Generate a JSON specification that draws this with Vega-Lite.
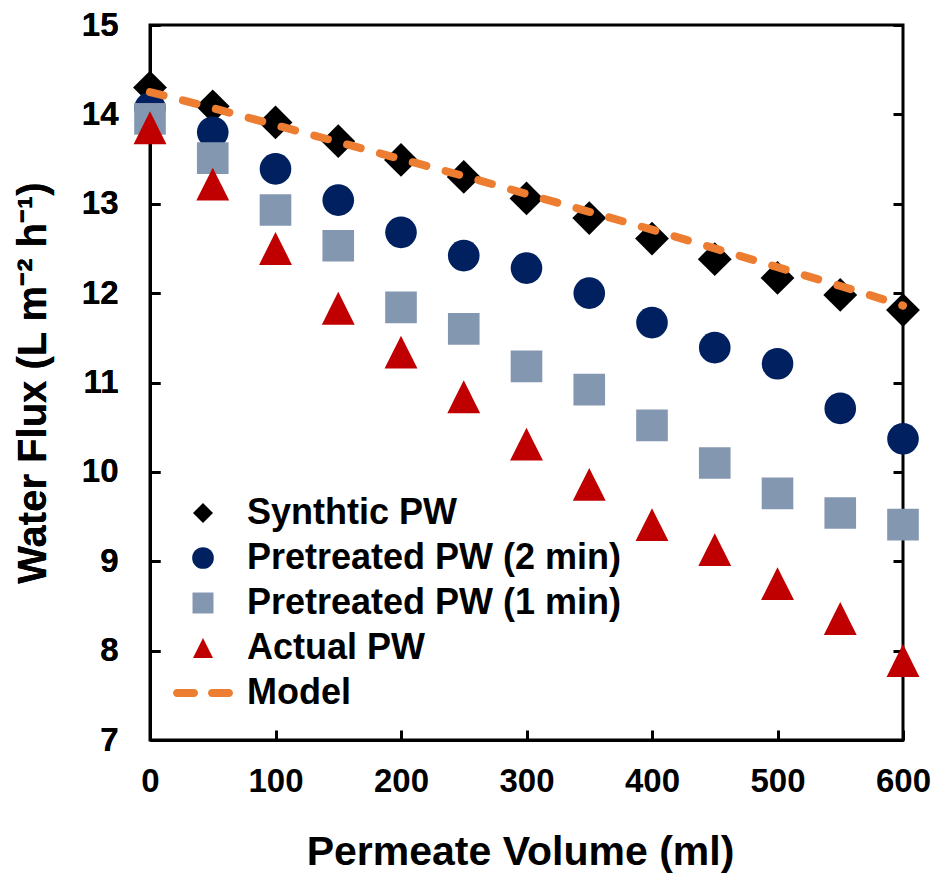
{
  "$schema": "https://vega.github.io/schema/vega-lite/v6.json",
  "width": 753,
  "height": 715,
  "autosize": {"type": "none"},
  "padding": {"left": 150, "top": 25, "right": 32, "bottom": 135},
  "background": "white",
  "config": {
    "font": "Liberation Sans",
    "view": {"stroke": "black", "strokeWidth": 3},
    "axis": {
      "domainColor": "black", "domainWidth": 3,
      "tickColor": "black", "tickWidth": 3, "tickSize": -10,
      "grid": false,
      "labelFont": "Liberation Sans", "labelFontWeight": "bold", "labelColor": "black", "labelFontSize": 33,
      "titleFont": "Liberation Sans", "titleFontWeight": "bold", "titleFontSize": 41, "titleColor": "black"
    },
    "legend": {
      "symbolStrokeWidth": 0, "symbolOpacity": 1,
      "labelFont": "Liberation Sans", "labelFontSize": 36, "labelFontWeight": "bold", "labelColor": "black",
      "labelOffset": 26, "labelLimit": 600, "rowPadding": 9
    }
  },
  "datasets": {
    "points": [
      {"volume": 0, "flux": 14.30, "series": "Synthtic PW"},
      {"volume": 50, "flux": 14.09, "series": "Synthtic PW"},
      {"volume": 100, "flux": 13.91, "series": "Synthtic PW"},
      {"volume": 150, "flux": 13.70, "series": "Synthtic PW"},
      {"volume": 200, "flux": 13.49, "series": "Synthtic PW"},
      {"volume": 250, "flux": 13.30, "series": "Synthtic PW"},
      {"volume": 300, "flux": 13.06, "series": "Synthtic PW"},
      {"volume": 350, "flux": 12.84, "series": "Synthtic PW"},
      {"volume": 400, "flux": 12.61, "series": "Synthtic PW"},
      {"volume": 450, "flux": 12.38, "series": "Synthtic PW"},
      {"volume": 500, "flux": 12.17, "series": "Synthtic PW"},
      {"volume": 550, "flux": 11.98, "series": "Synthtic PW"},
      {"volume": 600, "flux": 11.81, "series": "Synthtic PW"},
      {"volume": 0, "flux": 14.07, "series": "Pretreated PW (2 min)"},
      {"volume": 50, "flux": 13.80, "series": "Pretreated PW (2 min)"},
      {"volume": 100, "flux": 13.39, "series": "Pretreated PW (2 min)"},
      {"volume": 150, "flux": 13.04, "series": "Pretreated PW (2 min)"},
      {"volume": 200, "flux": 12.68, "series": "Pretreated PW (2 min)"},
      {"volume": 250, "flux": 12.42, "series": "Pretreated PW (2 min)"},
      {"volume": 300, "flux": 12.28, "series": "Pretreated PW (2 min)"},
      {"volume": 350, "flux": 12.00, "series": "Pretreated PW (2 min)"},
      {"volume": 400, "flux": 11.67, "series": "Pretreated PW (2 min)"},
      {"volume": 450, "flux": 11.39, "series": "Pretreated PW (2 min)"},
      {"volume": 500, "flux": 11.21, "series": "Pretreated PW (2 min)"},
      {"volume": 550, "flux": 10.71, "series": "Pretreated PW (2 min)"},
      {"volume": 600, "flux": 10.37, "series": "Pretreated PW (2 min)"},
      {"volume": 0, "flux": 13.95, "series": "Pretreated PW (1 min)"},
      {"volume": 50, "flux": 13.51, "series": "Pretreated PW (1 min)"},
      {"volume": 100, "flux": 12.93, "series": "Pretreated PW (1 min)"},
      {"volume": 150, "flux": 12.53, "series": "Pretreated PW (1 min)"},
      {"volume": 200, "flux": 11.84, "series": "Pretreated PW (1 min)"},
      {"volume": 250, "flux": 11.60, "series": "Pretreated PW (1 min)"},
      {"volume": 300, "flux": 11.18, "series": "Pretreated PW (1 min)"},
      {"volume": 350, "flux": 10.92, "series": "Pretreated PW (1 min)"},
      {"volume": 400, "flux": 10.52, "series": "Pretreated PW (1 min)"},
      {"volume": 450, "flux": 10.10, "series": "Pretreated PW (1 min)"},
      {"volume": 500, "flux": 9.76, "series": "Pretreated PW (1 min)"},
      {"volume": 550, "flux": 9.54, "series": "Pretreated PW (1 min)"},
      {"volume": 600, "flux": 9.41, "series": "Pretreated PW (1 min)"},
      {"volume": 0, "flux": 13.85, "series": "Actual PW"},
      {"volume": 50, "flux": 13.22, "series": "Actual PW"},
      {"volume": 100, "flux": 12.50, "series": "Actual PW"},
      {"volume": 150, "flux": 11.83, "series": "Actual PW"},
      {"volume": 200, "flux": 11.34, "series": "Actual PW"},
      {"volume": 250, "flux": 10.84, "series": "Actual PW"},
      {"volume": 300, "flux": 10.31, "series": "Actual PW"},
      {"volume": 350, "flux": 9.86, "series": "Actual PW"},
      {"volume": 400, "flux": 9.41, "series": "Actual PW"},
      {"volume": 450, "flux": 9.13, "series": "Actual PW"},
      {"volume": 500, "flux": 8.75, "series": "Actual PW"},
      {"volume": 550, "flux": 8.36, "series": "Actual PW"},
      {"volume": 600, "flux": 7.89, "series": "Actual PW"}
    ],
    "model": [
      {"volume": 0, "flux": 14.25},
      {"volume": 50, "flux": 14.07},
      {"volume": 100, "flux": 13.88},
      {"volume": 150, "flux": 13.69},
      {"volume": 200, "flux": 13.50},
      {"volume": 250, "flux": 13.31},
      {"volume": 300, "flux": 13.11},
      {"volume": 350, "flux": 12.91},
      {"volume": 400, "flux": 12.71},
      {"volume": 450, "flux": 12.50},
      {"volume": 500, "flux": 12.29},
      {"volume": 550, "flux": 12.08},
      {"volume": 600, "flux": 11.86}
    ],
    "legendEntries": [
      {"series": "Synthtic PW"},
      {"series": "Pretreated PW (2 min)"},
      {"series": "Pretreated PW (1 min)"},
      {"series": "Actual PW"},
      {"series": "Model"}
    ]
  },
  "encoding": {
    "x": {
      "field": "volume", "type": "quantitative",
      "scale": {"domain": [0, 600], "nice": false, "zero": false},
      "axis": {"title": "Permeate Volume (ml)", "titleX": 370, "values": [0, 100, 200, 300, 400, 500, 600], "labelPadding": 35, "titlePadding": 34, "labelFlush": false}
    },
    "y": {
      "field": "flux", "type": "quantitative",
      "scale": {"domain": [7, 15], "nice": false, "zero": false},
      "axis": {"title": "Water Flux (L m⁻² h⁻¹)", "titleFontSize": 40, "values": [7, 8, 9, 10, 11, 12, 13, 14, 15], "labelPadding": 42, "titlePadding": 28, "labelFlush": false}
    }
  },
  "layer": [
    {
      "data": {"name": "points"},
      "mark": {"type": "point", "filled": true, "opacity": 1, "size": 1000, "strokeWidth": 0},
      "encoding": {
        "color": {
          "field": "series", "type": "nominal",
          "scale": {
            "domain": ["Synthtic PW", "Pretreated PW (2 min)", "Pretreated PW (1 min)", "Actual PW", "Model"],
            "range": ["#000000", "#002060", "#8497B0", "#C00000", "#ED7D31"]
          }
        },
        "shape": {
          "field": "series", "type": "nominal",
          "scale": {
            "domain": ["Synthtic PW", "Pretreated PW (2 min)", "Pretreated PW (1 min)", "Actual PW", "Model"],
            "range": ["M-1.07,0L0,-1.07L1.07,0L0,1.07Z", "circle", "square", "M0,-1.04L1.04,1.04L-1.04,1.04Z", "M-1.733,-0.267H-0.6A0.267,0.267 0 0 1 -0.6,0.267H-1.733A0.267,0.267 0 0 1 -1.733,-0.267ZM0.6,-0.267H1.733A0.267,0.267 0 0 1 1.733,0.267H0.6A0.267,0.267 0 0 1 0.6,-0.267Z"]
          }
        }
      }
    },
    {
      "data": {"name": "model"},
      "mark": {"type": "line", "color": "#ED7D31", "strokeWidth": 8, "strokeDash": [14, 20], "strokeCap": "round", "interpolate": "monotone"},
      "encoding": {
        "y": {
          "field": "flux", "type": "quantitative",
          "axis": {"orient": "right", "title": null, "labels": false, "domain": false, "values": [7, 8, 9, 10, 11, 12, 13, 14, 15]}
        }
      }
    },
    {
      "data": {"name": "legendEntries"},
      "mark": {"type": "point", "filled": true, "opacity": 1, "strokeWidth": 0},
      "encoding": {
        "color": {"field": "series", "type": "nominal", "legend": {"orient": "none", "legendX": 35, "legendY": 470, "title": null, "padding": 0}},
        "shape": {"field": "series", "type": "nominal", "legend": {"orient": "none", "legendX": 35, "legendY": 470, "title": null, "padding": 0}},
        "size": {
          "field": "series", "type": "nominal",
          "scale": {
            "type": "ordinal",
            "domain": ["Synthtic PW", "Pretreated PW (2 min)", "Pretreated PW (1 min)", "Actual PW", "Model"],
            "range": [350, 470, 440, 370, 900]
          },
          "legend": {"orient": "none", "legendX": 35, "legendY": 470, "title": null, "padding": 0}
        }
      }
    }
  ],
  "resolve": {"axis": {"y": "independent"}}
}
